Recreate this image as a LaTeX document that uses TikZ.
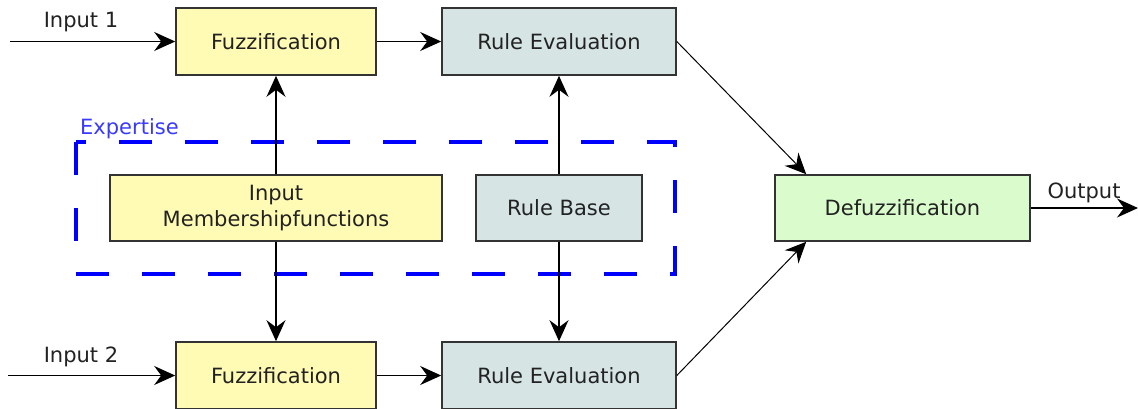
\documentclass[tikz,border=0pt]{standalone}
\usepackage{fontspec}
\setmainfont{DejaVu Sans}
\usetikzlibrary{arrows.meta,calc}
\definecolor{fuzzfill}{HTML}{FFFAB4}
\definecolor{rulefill}{HTML}{D6E4E4}
\definecolor{defuzzfill}{HTML}{DAFCCC}
\definecolor{boxline}{HTML}{333333}
\definecolor{txt}{HTML}{222222}
\definecolor{expblue}{HTML}{0000FF}
\definecolor{explabel}{HTML}{3A3AFF}
\tikzset{
  block/.style={draw=boxline, line width=1.6pt, inner sep=0pt, text=txt,
    font=\fontsize{21}{26}\selectfont, align=center},
  fuzzbox/.style={block, fill=fuzzfill},
  rulebox/.style={block, fill=rulefill},
  defbox/.style={block, fill=defuzzfill},
  conn/.style={line width=1.5pt, draw=black,
    -{Stealth[length=21pt, width=19pt, inset=7pt]}},
  thinconn/.style={conn, line width=1pt},
  lbl/.style={text=txt, font=\fontsize{21}{26}\selectfont, inner sep=0pt},
  groupbox/.style={draw=expblue, line width=4pt, dash pattern=on 33pt off 33pt},
}
\begin{document}
\begin{tikzpicture}[x=1pt, y=-1pt]
  \useasboundingbox (0,0) rectangle (1138,408);
  \fill[white] (0,0) rectangle (1138,408);

  % expertise group
  \draw[groupbox] (76,142) rectangle (675,274);
  \node[anchor=base west, inner sep=0pt, text=explabel,
        font=\fontsize{21}{26}\selectfont] (explbl) at (80,134) {Expertise};

  % blocks
  \node[fuzzbox, minimum width=200pt, minimum height=67pt] (fz1) at (276,41.5) {Fuzzification};
  \node[rulebox, minimum width=234pt, minimum height=67pt] (re1) at (559,41.5) {Rule Evaluation};
  \node[fuzzbox, minimum width=332pt, minimum height=66pt] (mf) at (276,208) {Input\\Membershipfunctions};
  \node[rulebox, minimum width=166pt, minimum height=66pt] (rb) at (559,208) {Rule Base};
  \node[fuzzbox, minimum width=200pt, minimum height=67pt] (fz2) at (276,375.5) {Fuzzification};
  \node[rulebox, minimum width=234pt, minimum height=67pt] (re2) at (559,375.5) {Rule Evaluation};
  \node[defbox, minimum width=255pt, minimum height=66pt] (df) at (902.5,208) {Defuzzification};

  % free ends
  \coordinate (in1) at (10,41.5);
  \coordinate (in2) at (8,375.5);
  \coordinate (out) at (1138,208);

  % signal flow
  \draw[conn] (in1) -- (fz1.west);
  \draw[conn] (in2) -- (fz2.west);
  \draw[conn] (fz1.east) -- (re1.west);
  \draw[conn] (fz2.east) -- (re2.west);
  \draw[conn] (mf.north) -- (fz1.south);
  \draw[conn] (mf.south) -- (fz2.north);
  \draw[conn] (rb.north) -- (re1.south);
  \draw[conn] (rb.south) -- (re2.north);
  \draw[thinconn] (re1.east) -- ($(df.north west)+(32,0)$);
  \draw[thinconn] (re2.east) -- ($(df.south west)+(32,0)$);
  \draw[conn] (df.east) -- (out);

  % labels
  \node[lbl] (lin1) at (81,22) {Input 1};
  \node[lbl] (lin2) at (81,357) {Input 2};
  \node[lbl] (lout) at (1084,193) {Output};
\end{tikzpicture}
\end{document}
